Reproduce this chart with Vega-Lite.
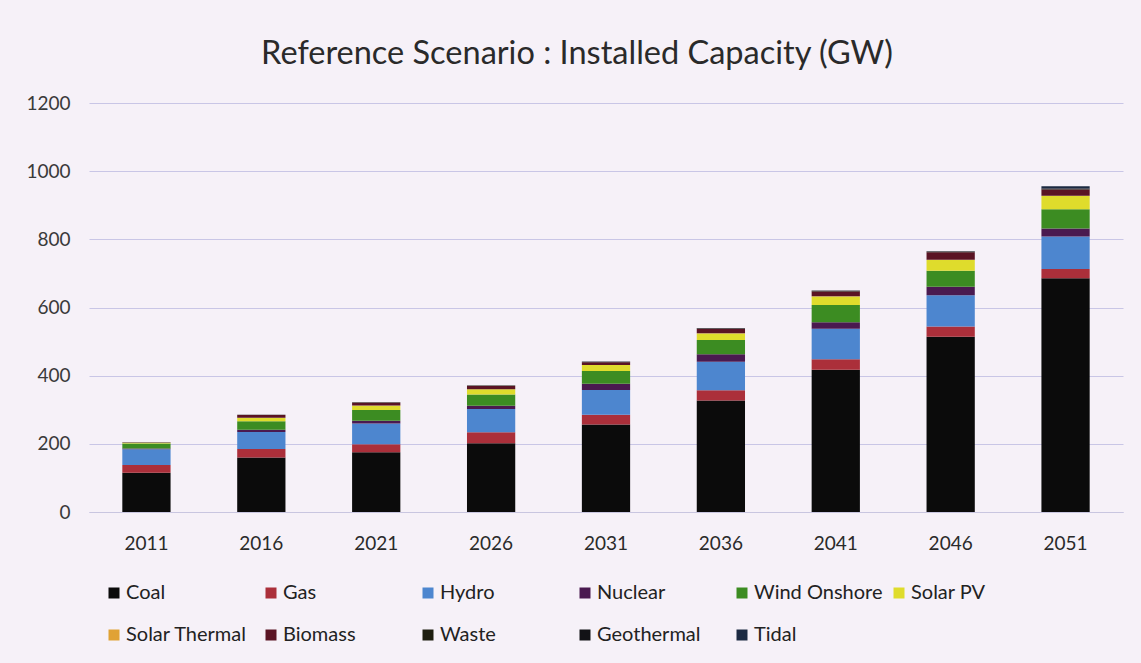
{
  "$schema": "https://vega.github.io/schema/vega-lite/v6.json",
  "width": 1034,
  "height": 409,
  "autosize": {"type": "none"},
  "padding": {"left": 89, "top": 103, "right": 18, "bottom": 151},
  "background": "#f6f1f8",
  "title": {
    "text": "Reference Scenario : Installed Capacity (GW)",
    "font": "Lato",
    "fontSize": 32.5,
    "fontWeight": "normal",
    "color": "#2a2a2a",
    "anchor": "middle",
    "dx": -29,
    "offset": 24
  },
  "config": {
    "view": {"stroke": null},
    "font": "Lato"
  },
  "data": {
    "values": [
      {"year": "2011", "source": "Coal", "gw": 115},
      {"year": "2011", "source": "Gas", "gw": 23},
      {"year": "2011", "source": "Hydro", "gw": 46},
      {"year": "2011", "source": "Nuclear", "gw": 2},
      {"year": "2011", "source": "Wind Onshore", "gw": 15},
      {"year": "2011", "source": "Solar PV", "gw": 2},
      {"year": "2011", "source": "Solar Thermal", "gw": 0},
      {"year": "2011", "source": "Biomass", "gw": 1},
      {"year": "2011", "source": "Waste", "gw": 0.5},
      {"year": "2011", "source": "Geothermal", "gw": 0},
      {"year": "2011", "source": "Tidal", "gw": 0},
      {"year": "2016", "source": "Coal", "gw": 160},
      {"year": "2016", "source": "Gas", "gw": 25},
      {"year": "2016", "source": "Hydro", "gw": 50},
      {"year": "2016", "source": "Nuclear", "gw": 6},
      {"year": "2016", "source": "Wind Onshore", "gw": 25},
      {"year": "2016", "source": "Solar PV", "gw": 10},
      {"year": "2016", "source": "Solar Thermal", "gw": 0.5},
      {"year": "2016", "source": "Biomass", "gw": 8},
      {"year": "2016", "source": "Waste", "gw": 1},
      {"year": "2016", "source": "Geothermal", "gw": 0},
      {"year": "2016", "source": "Tidal", "gw": 0},
      {"year": "2021", "source": "Coal", "gw": 175},
      {"year": "2021", "source": "Gas", "gw": 24},
      {"year": "2021", "source": "Hydro", "gw": 61},
      {"year": "2021", "source": "Nuclear", "gw": 8},
      {"year": "2021", "source": "Wind Onshore", "gw": 31},
      {"year": "2021", "source": "Solar PV", "gw": 13},
      {"year": "2021", "source": "Solar Thermal", "gw": 0.5},
      {"year": "2021", "source": "Biomass", "gw": 8},
      {"year": "2021", "source": "Waste", "gw": 1.5},
      {"year": "2021", "source": "Geothermal", "gw": 0},
      {"year": "2021", "source": "Tidal", "gw": 0},
      {"year": "2026", "source": "Coal", "gw": 202},
      {"year": "2026", "source": "Gas", "gw": 32},
      {"year": "2026", "source": "Hydro", "gw": 68},
      {"year": "2026", "source": "Nuclear", "gw": 10},
      {"year": "2026", "source": "Wind Onshore", "gw": 33},
      {"year": "2026", "source": "Solar PV", "gw": 15},
      {"year": "2026", "source": "Solar Thermal", "gw": 0.5},
      {"year": "2026", "source": "Biomass", "gw": 9},
      {"year": "2026", "source": "Waste", "gw": 1.5},
      {"year": "2026", "source": "Geothermal", "gw": 0},
      {"year": "2026", "source": "Tidal", "gw": 0.5},
      {"year": "2031", "source": "Coal", "gw": 257},
      {"year": "2031", "source": "Gas", "gw": 28},
      {"year": "2031", "source": "Hydro", "gw": 73},
      {"year": "2031", "source": "Nuclear", "gw": 18},
      {"year": "2031", "source": "Wind Onshore", "gw": 38},
      {"year": "2031", "source": "Solar PV", "gw": 17},
      {"year": "2031", "source": "Solar Thermal", "gw": 0.5},
      {"year": "2031", "source": "Biomass", "gw": 8},
      {"year": "2031", "source": "Waste", "gw": 1.5},
      {"year": "2031", "source": "Geothermal", "gw": 0},
      {"year": "2031", "source": "Tidal", "gw": 0.5},
      {"year": "2036", "source": "Coal", "gw": 327},
      {"year": "2036", "source": "Gas", "gw": 30},
      {"year": "2036", "source": "Hydro", "gw": 84},
      {"year": "2036", "source": "Nuclear", "gw": 22},
      {"year": "2036", "source": "Wind Onshore", "gw": 42},
      {"year": "2036", "source": "Solar PV", "gw": 19},
      {"year": "2036", "source": "Solar Thermal", "gw": 0.5},
      {"year": "2036", "source": "Biomass", "gw": 13},
      {"year": "2036", "source": "Waste", "gw": 1.5},
      {"year": "2036", "source": "Geothermal", "gw": 0},
      {"year": "2036", "source": "Tidal", "gw": 0.5},
      {"year": "2041", "source": "Coal", "gw": 417},
      {"year": "2041", "source": "Gas", "gw": 31},
      {"year": "2041", "source": "Hydro", "gw": 90},
      {"year": "2041", "source": "Nuclear", "gw": 19},
      {"year": "2041", "source": "Wind Onshore", "gw": 50},
      {"year": "2041", "source": "Solar PV", "gw": 25},
      {"year": "2041", "source": "Solar Thermal", "gw": 1},
      {"year": "2041", "source": "Biomass", "gw": 14},
      {"year": "2041", "source": "Waste", "gw": 2},
      {"year": "2041", "source": "Geothermal", "gw": 0},
      {"year": "2041", "source": "Tidal", "gw": 1},
      {"year": "2046", "source": "Coal", "gw": 514},
      {"year": "2046", "source": "Gas", "gw": 30},
      {"year": "2046", "source": "Hydro", "gw": 92},
      {"year": "2046", "source": "Nuclear", "gw": 25},
      {"year": "2046", "source": "Wind Onshore", "gw": 47},
      {"year": "2046", "source": "Solar PV", "gw": 31},
      {"year": "2046", "source": "Solar Thermal", "gw": 1},
      {"year": "2046", "source": "Biomass", "gw": 22},
      {"year": "2046", "source": "Waste", "gw": 2},
      {"year": "2046", "source": "Geothermal", "gw": 0},
      {"year": "2046", "source": "Tidal", "gw": 1},
      {"year": "2051", "source": "Coal", "gw": 686},
      {"year": "2051", "source": "Gas", "gw": 27},
      {"year": "2051", "source": "Hydro", "gw": 95},
      {"year": "2051", "source": "Nuclear", "gw": 24},
      {"year": "2051", "source": "Wind Onshore", "gw": 56},
      {"year": "2051", "source": "Solar PV", "gw": 39},
      {"year": "2051", "source": "Solar Thermal", "gw": 1},
      {"year": "2051", "source": "Biomass", "gw": 18},
      {"year": "2051", "source": "Waste", "gw": 2},
      {"year": "2051", "source": "Geothermal", "gw": 1},
      {"year": "2051", "source": "Tidal", "gw": 7}
    ]
  },
  "transform": [
    {"window": [{"op": "row_number", "as": "stackOrder"}], "groupby": ["year"]}
  ],
  "mark": {"type": "bar"},
  "encoding": {
    "x": {
      "field": "year",
      "type": "ordinal",
      "scale": {"paddingInner": 0.58, "paddingOuter": 0.29},
      "axis": {
        "title": null,
        "labelAngle": 0,
        "labelFont": "Lato",
        "labelFontSize": 19,
        "labelColor": "#2a2a2a",
        "labelPadding": 22,
        "ticks": false,
        "domainColor": "#c9c6e0",
        "domainWidth": 1
      }
    },
    "y": {
      "field": "gw",
      "type": "quantitative",
      "stack": "zero",
      "scale": {"domain": [0, 1200], "nice": false},
      "axis": {
        "title": null,
        "values": [0, 200, 400, 600, 800, 1000, 1200],
        "format": "d",
        "labelFont": "Lato",
        "labelFontSize": 19,
        "labelColor": "#3a3a3a",
        "labelPadding": 19,
        "ticks": false,
        "domain": false,
        "gridColor": "#c9c6e6",
        "gridWidth": 1
      }
    },
    "color": {
      "field": "source",
      "type": "nominal",
      "sort": ["Coal", "Gas", "Hydro", "Nuclear", "Wind Onshore", "Solar PV", "Solar Thermal", "Biomass", "Waste", "Geothermal", "Tidal"],
      "scale": {
        "domain": ["Coal", "Gas", "Hydro", "Nuclear", "Wind Onshore", "Solar PV", "Solar Thermal", "Biomass", "Waste", "Geothermal", "Tidal"],
        "range": ["#0b0b0b", "#ab2f3a", "#4d86cf", "#4a1a50", "#3c8c22", "#dfdc2c", "#e0a235", "#5a1424", "#1e1e10", "#121216", "#1c2a42"]
      },
      "legend": {
        "title": null,
        "orient": "none",
        "legendX": 15,
        "legendY": 480,
        "direction": "horizontal",
        "columns": 6,
        "gridAlign": "all",
        "columnPadding": 6,
        "rowPadding": 22,
        "symbolType": "square",
        "symbolSize": 121,
        "symbolStrokeWidth": 0,
        "labelFont": "Lato",
        "labelFontSize": 20,
        "labelColor": "#222222",
        "labelOffset": 2,
        "labelLimit": 200
      }
    },
    "order": {"field": "stackOrder", "type": "quantitative", "sort": "ascending"}
  }
}
